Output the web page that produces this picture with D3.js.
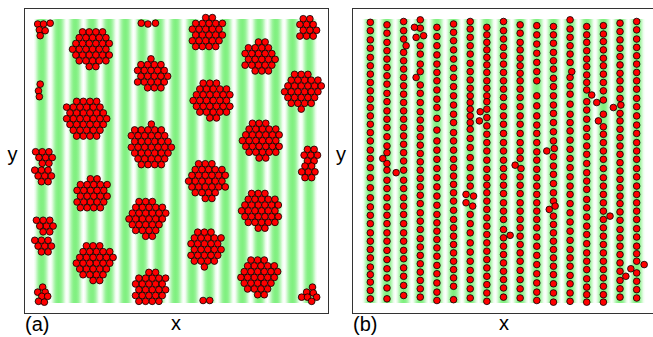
<!DOCTYPE html>
<html>
<head>
<meta charset="utf-8">
<script src="https://cdn.jsdelivr.net/npm/d3@7"></script>
<style>
  body { margin: 0; background: #fff; }
  text { font-family: "Liberation Sans", Arial, sans-serif; }
</style>
</head>
<body>
<svg id="fig" width="653" height="337"></svg>
<script>
// box length (units of chain spacing) and period of the potential stripes
const BOX = 34;
const STRIPE_PERIOD = 2;

// ---- panel (a): clusters, center [x, y] and number of particles
const clusterCenters = [
  [7.0, 3.5], [14.2, 6.7], [6.3, 11.9], [14.0, 15.2], [1.3, 16.5], [1.2, 18.7],
  [20.8, 1.7], [27.1, 4.6], [32.8, 1.1], [21.4, 9.7], [32.2, 8.5], [27.3, 14.5],
  [33.2, 16.3], [32.9, 18.3], [20.8, 19.3], [27.2, 22.9], [7.0, 21.0], [13.6, 23.8],
  [1.4, 24.7], [1.2, 27.1], [7.3, 29.1], [20.6, 27.4], [27.0, 30.8], [14.0, 32.2]
];
const clusterSizes = [
  34, 23, 38, 40, 8, 8,
  26, 24, 11, 33, 30, 33,
  7, 7, 32, 33, 26, 31,
  8, 8, 31, 28, 31, 26
];
// particles of (a) that are not in a round cluster
const looseA = [
  [0.5, 0.6], [1.2, 0.6], [2.0, 0.5], [0.7, 1.3], [1.4, 1.4], [0.8, 2.0],
  [12.9, 0.5], [13.7, 0.6], [14.6, 0.5],
  [0.8, 7.8], [0.6, 8.6], [0.7, 9.3],
  [1.1, 32.1], [0.5, 32.7], [1.4, 32.7], [1.0, 33.2], [1.7, 33.2], [0.6, 33.8], [1.3, 33.9],
  [20.3, 33.7], [21.1, 33.7],
  [33.4, 32.1], [32.7, 32.7], [33.5, 32.8], [32.1, 33.3], [32.8, 33.3], [33.9, 33.3], [33.3, 33.8]
];

// ---- panel (b): chains along the stripes, x of each chain and its y values
const chainX = [1, 3, 5, 7, 9, 11, 13, 15, 17, 19, 21, 23, 25, 27, 29, 31, 33];
const chainY = [
  [0.4,1.4,2.5,3.5,4.6,5.6,6.6,7.6,8.6,9.6,10.6,11.6,12.6,13.6,14.6,15.7,16.7,17.8,19.0,20.2,21.4,22.5,23.5,24.5,25.6,26.6,27.6,28.6,29.7,30.6,31.5,32.5,33.5],
  [0.7,1.7,2.8,3.8,4.8,5.8,6.8,7.8,8.9,9.9,11.0,12.0,13.0,14.1,15.2,16.0,17.3,18.1,19.3,20.3,21.4,22.5,23.5,24.5,25.6,26.6,27.7,28.8,29.9,31.0,32.2,33.5],
  [0.3,1.4,2.4,4.0,5.0,6.0,7.0,8.0,9.0,10.0,11.0,12.0,13.0,14.0,15.0,16.0,17.0,18.1,19.3,20.3,21.4,22.4,23.4,24.5,25.6,26.6,27.7,28.7,29.8,30.8,31.9,33.1],
  [0.1,1.1,3.2,4.2,5.4,6.3,7.9,8.9,10.0,11.1,12.1,13.1,14.1,15.1,16.1,17.1,18.1,19.1,20.1,21.1,22.1,23.2,24.2,25.2,26.3,27.3,28.3,29.3,30.3,31.3,32.3,33.3],
  [1.0,2.1,3.2,4.3,5.4,6.4,7.4,8.5,9.6,10.6,11.9,13.3,14.6,15.7,16.8,17.9,19.0,20.1,21.2,22.3,23.4,24.4,25.4,26.4,27.4,28.4,29.5,30.5,31.6,32.7,33.7],
  [0.6,1.6,2.6,3.7,4.8,5.9,7.0,8.1,9.2,10.3,11.4,12.4,13.6,14.6,15.7,16.8,17.8,18.8,19.8,20.8,21.8,22.9,24.0,25.0,26.0,27.0,28.0,29.0,30.0,31.0,32.0,33.6],
  [0.3,1.2,2.2,3.2,4.2,5.3,6.3,7.3,8.3,9.2,10.0,10.8,11.6,12.4,13.2,14.3,15.4,16.6,17.8,19.0,20.0,23.4,24.5,25.6,26.8,27.9,29.0,30.1,31.2,32.3,33.4],
  [1.0,1.9,2.8,3.7,4.6,5.5,6.4,7.4,8.3,9.2,9.9,10.8,11.8,12.8,13.8,14.8,15.8,16.9,18.0,19.0,19.9,20.8,21.8,22.8,23.8,24.8,25.8,26.8,27.8,28.8,29.8,30.8,31.8,32.8,33.8],
  [0.3,1.4,2.4,3.4,4.4,5.4,6.4,7.4,8.4,9.4,10.5,11.6,12.6,13.7,14.8,15.8,16.9,17.9,18.9,19.9,20.9,22.0,23.0,24.0,25.2,26.2,27.2,28.2,29.2,30.2,31.2,32.2,33.3],
  [0.7,1.7,2.8,3.7,4.7,5.6,6.5,7.4,8.4,9.4,10.5,11.6,12.6,13.7,14.8,15.8,16.7,18.9,19.9,20.9,22.0,23.0,24.0,25.0,26.0,27.0,28.0,29.0,30.1,31.2,32.3,33.4],
  [0.8,1.9,3.0,4.1,5.2,6.3,7.4,9.2,10.4,11.6,12.7,13.7,14.8,15.9,16.9,18.0,19.0,20.0,21.0,22.0,23.0,24.0,25.0,26.1,27.2,28.3,29.4,30.5,31.6,32.7,33.7],
  [0.9,1.9,2.9,4.0,5.0,6.0,7.1,8.1,9.2,10.3,11.3,12.4,13.5,14.6,16.5,17.6,18.6,19.7,20.8,21.8,23.6,24.6,25.6,26.6,27.6,28.6,29.6,30.6,31.7,32.8,33.9],
  [0.1,1.2,2.2,3.2,4.2,5.2,7.0,8.0,9.0,10.2,11.4,12.4,13.4,14.5,15.6,16.7,17.8,18.9,20.0,21.0,22.1,23.2,24.3,25.4,26.5,27.6,28.6,29.6,30.7,31.7,32.8,33.8],
  [0.9,1.9,2.8,3.8,4.8,5.7,6.7,7.6,8.5,9.9,10.9,12.0,13.1,14.1,15.2,16.2,17.3,18.4,19.4,20.4,21.6,22.6,23.7,24.8,25.8,26.9,28.0,29.0,30.0,31.1,32.1,33.0,33.9],
  [0.8,1.8,2.7,3.7,4.7,5.6,6.6,7.6,8.6,9.7,12.9,13.8,14.8,15.8,16.8,17.9,19.0,20.0,21.0,22.0,23.0,24.0,25.0,26.0,27.0,28.0,29.0,30.0,31.0,32.0,33.0,33.9],
  [0.5,1.5,2.5,3.5,4.5,5.5,6.5,7.4,8.4,9.5,11.3,12.2,13.2,14.2,15.2,16.2,17.2,18.2,19.2,20.2,21.2,22.1,23.1,24.1,25.2,26.2,27.2,28.2,29.2,30.2,31.3,32.3,33.3],
  [0.3,1.3,2.4,3.4,4.4,5.4,6.4,7.4,8.4,9.5,10.5,11.6,12.7,13.7,14.8,15.8,16.8,17.9,18.9,20.0,21.0,22.0,23.0,24.0,25.1,26.1,27.2,28.1,29.0,30.4,31.4,32.4,33.4]
];
// particles of (b) that left their chain
const looseB = [
  [2.5, 16.7], [5.3, 3.2], [4.1, 18.4],
  [6.3, 1.0], [7.4, 2.0], [6.5, 2.2], [6.5, 7.0],
  [12.5, 21.0], [13.4, 21.2], [12.5, 22.0], [13.3, 22.4], [14.2, 11.1], [14.1, 12.2],
  [17.8, 25.9], [18.4, 17.5], [19.1, 17.9],
  [22.2, 15.8], [23.1, 15.5], [22.5, 22.8], [23.2, 22.4],
  [25.2, 6.3], [27.6, 9.1],
  [28.2, 10.0], [29.0, 11.4], [28.4, 12.2],
  [31.1, 10.3], [30.2, 10.6], [29.8, 23.6], [31.7, 30.8],
  [33.9, 29.4], [32.3, 29.9]
];

const panels = [
  { key: 'a', frameX: 24.5, frameW: 304, plotX: 33.5, plotW: 284, label: '(a)', labelX: 25, xLabelX: 176, yLabelX: 12.5 },
  { key: 'b', frameX: 352.5, frameW: 304, plotX: 362, plotW: 283, label: '(b)', labelX: 353, xLabelX: 504, yLabelX: 341 }
];
const FRAME_TOP = 8.5, FRAME_H = 305;
const PLOT_TOP = 19, PLOT_H = 284;
const GREEN = '#80f080';

const svg = d3.select('#fig');
const defs = svg.append('defs');

// triangular lattice sites nearest the cluster center: a close-packed round cluster
function hexCluster(n, s) {
  const sites = [];
  d3.range(-8, 9).forEach(j => d3.range(-8, 9).forEach(i => {
    sites.push([(i + j / 2 + 0.23) * s, (j + 0.17) * s * Math.sqrt(3) / 2]);
  }));
  sites.sort((a, b) => (a[0] * a[0] + a[1] * a[1]) - (b[0] * b[0] + b[1] * b[1]));
  const pick = sites.slice(0, n);
  const mx = d3.mean(pick, d => d[0]), my = d3.mean(pick, d => d[1]);
  return pick.map(d => [d[0] - mx, d[1] - my]);
}

panels.forEach(p => {
  const x = d3.scaleLinear().domain([0, BOX]).range([p.plotX, p.plotX + p.plotW]);
  const y = d3.scaleLinear().domain([0, BOX]).range([PLOT_TOP, PLOT_TOP + PLOT_H]);
  const r = (x(1) - x(0)) * 0.4;

  // striped periodic potential: white at the maxima, green at the minima
  const grad = defs.append('linearGradient')
    .attr('id', 'stripe-' + p.key)
    .attr('gradientUnits', 'userSpaceOnUse')
    .attr('spreadMethod', 'repeat')
    .attr('x1', x(0)).attr('x2', x(STRIPE_PERIOD))
    .attr('y1', 0).attr('y2', 0);
  const prof = [[0, 0], [0.1, 0.15], [0.2, 0.48], [0.3, 0.78], [0.4, 0.95], [0.5, 1],
                [0.6, 0.95], [0.7, 0.78], [0.8, 0.48], [0.9, 0.15], [1, 0]];
  grad.selectAll('stop').data(prof).join('stop')
    .attr('offset', d => d[0])
    .attr('stop-color', d => d3.interpolateRgb('#ffffff', GREEN)(d[1]));

  const g = svg.append('g');

  g.append('rect')
    .attr('x', p.frameX).attr('y', FRAME_TOP)
    .attr('width', p.frameW).attr('height', FRAME_H)
    .attr('fill', '#fff');

  g.append('rect')
    .attr('x', x(0)).attr('y', y(0))
    .attr('width', x(BOX) - x(0)).attr('height', y(BOX) - y(0))
    .attr('fill', 'url(#stripe-' + p.key + ')');

  let pts = [];
  if (p.key === 'a') {
    const s = r * 2.0;
    clusterCenters.forEach((c, i) => {
      hexCluster(clusterSizes[i], s).forEach(d => pts.push([x(c[0]) + d[0], y(c[1]) + d[1]]));
    });
    looseA.forEach(d => pts.push([x(d[0]), y(d[1])]));
  } else {
    chainX.forEach((cx, i) => chainY[i].forEach(cy => pts.push([x(cx), y(cy)])));
    looseB.forEach(d => pts.push([x(d[0]), y(d[1])]));
  }

  g.append('g').selectAll('circle').data(pts).join('circle')
    .attr('cx', d => d[0]).attr('cy', d => d[1])
    .attr('r', r)
    .attr('fill', '#ff0000')
    .attr('stroke', '#000')
    .attr('stroke-width', 0.8);

  g.append('rect')
    .attr('x', p.frameX).attr('y', FRAME_TOP)
    .attr('width', p.frameW).attr('height', FRAME_H)
    .attr('fill', 'none')
    .attr('stroke', '#333')
    .attr('stroke-width', 1);

  g.append('text')
    .attr('x', p.labelX).attr('y', 331)
    .attr('font-size', 20)
    .text(p.label);
  g.append('text')
    .attr('x', p.xLabelX).attr('y', 330)
    .attr('text-anchor', 'middle')
    .attr('font-size', 20)
    .text('x');
  g.append('text')
    .attr('x', p.yLabelX).attr('y', 161)
    .attr('text-anchor', 'middle')
    .attr('font-size', 20)
    .text('y');
});
</script>
</body>
</html>
